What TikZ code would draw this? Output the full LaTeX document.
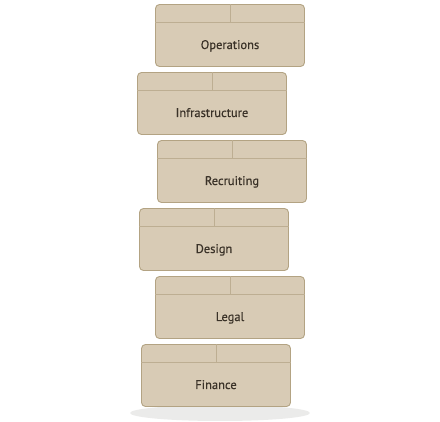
\documentclass[tikz,border=0pt]{standalone}
\usepackage{fontspec}
\setmainfont{PT Sans}[FakeBold=0.35]
\usetikzlibrary{calc}
\definecolor{boxfill}{HTML}{D8CBB5}
\definecolor{boxline}{HTML}{B3A383}
\definecolor{divline}{HTML}{BDAE92}
\definecolor{txt}{HTML}{3A3228}
\definecolor{shadowgray}{HTML}{EBEBEA}
\begin{document}
\begin{tikzpicture}[x=1pt,y=-1pt,
  dept/.style={draw=boxline, fill=boxfill, line width=0.9pt, rounded corners=4pt,
    minimum width=149pt, minimum height=62pt, inner sep=0pt},
  divider/.style={draw=divline, line width=0.8pt},
  lbl/.style={text=txt, font=\fontsize{12.5}{14}\selectfont, inner sep=0pt}]
\useasboundingbox (0,0) rectangle (440,422);
\fill[shadowgray] (220,413) ellipse [x radius=90pt, y radius=8pt];
\foreach \n/\cx/\top/\t in {ops/230/4/Operations, inf/212/72/Infrastructure,
    rec/232/140/Recruiting, des/214/208/Design, leg/230/276/Legal, fin/216/344/Finance}{
  \node[dept] (\n) at (\cx,\top+31.5) {};
  \coordinate (\n-l) at ($(\n.north west)+(0,18)$);
  \coordinate (\n-r) at ($(\n.north east)+(0,18)$);
  \draw[divider] (\n-l) -- (\n-r);
  \draw[divider] (\n.north) -- (\n.north |- \n-l);
  \node[lbl, anchor=base] (\n-t) at (\cx,\top+45) {\t};
}
\end{tikzpicture}
\end{document}
